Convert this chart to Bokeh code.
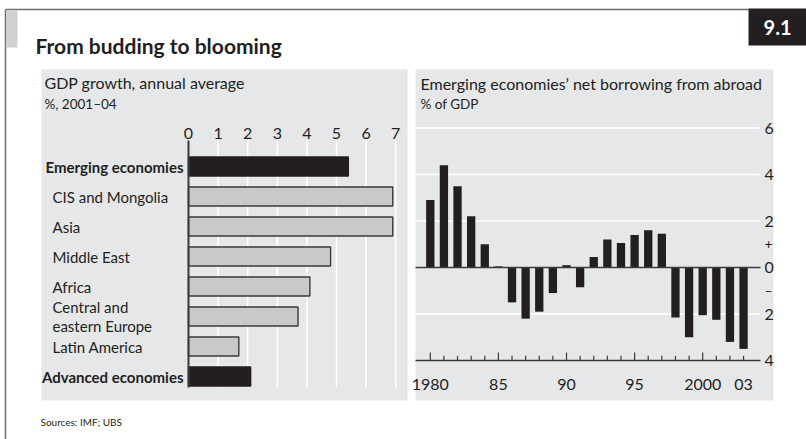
from bokeh.plotting import figure
from bokeh.models import Range1d
from bokeh.core.properties import value
from bokeh.embed import file_html
from bokeh.resources import INLINE

# ---- data -------------------------------------------------------------
# GDP growth, annual average, %, 2001-04
regions = ["Emerging economies", "CIS and Mongolia", "Asia", "Middle East",
           "Africa", "Central and\neastern Europe", "Latin America",
           "Advanced economies"]
gdp_growth = [5.4, 6.9, 6.9, 4.8, 4.1, 3.7, 1.7, 2.1]
is_aggregate = [True, False, False, False, False, False, False, True]
gdp_ticks = [0, 1, 2, 3, 4, 5, 6, 7]

# Emerging economies' net borrowing from abroad, % of GDP
years = list(range(1980, 2004))
net_borrowing = [2.9, 4.4, 3.5, 2.2, 1.0, 0.05, -1.5, -2.2, -1.9, -1.1,
                 0.1, -0.85, 0.45, 1.2, 1.05, 1.4, 1.6, 1.45, -2.15, -3.0,
                 -2.05, -2.25, -3.2, -3.5]
year_tick_pos = [1980, 1985, 1990, 1995, 2000, 2003]
year_tick_labels = ["1980", "85", "90", "95", "2000", "03"]
borrow_ticks = [6, 4, 2, 0, -2, -4]
borrow_tick_labels = ["6", "4", "2", "0", "2", "4"]

# ---- page geometry (pixels) -------------------------------------------
W, H = 806, 439
FONT = value("Lato")
INK = "#231f20"
PANEL = "#e6e7e9"

# left chart: value 0 sits at GDP_X0 px, GDP_UNIT px per percentage point
GDP_X0, GDP_UNIT = 188.0, 29.6
ROW0, ROW_H = 166.0, 30.0
# right chart: year 1980 at YR_X0 px, 0% at BOR_Y0 px
YR_X0, YR_UNIT = 429.8, 13.62
BOR_Y0, BOR_UNIT = 267.0, 23.25

p = figure(width=W, height=H, x_range=Range1d(0, W), y_range=Range1d(H, 0),
           x_axis_type=None, y_axis_type=None, toolbar_location=None,
           output_backend="svg", min_border=0, title=None,
           background_fill_color="white", border_fill_color="white",
           outline_line_color=None)

p.extra_x_ranges = {
    "gdp": Range1d(-GDP_X0 / GDP_UNIT, (W - GDP_X0) / GDP_UNIT),
    "yr": Range1d(1980 - YR_X0 / YR_UNIT, 1980 + (W - YR_X0) / YR_UNIT),
}
p.extra_y_ranges = {
    "row": Range1d((H - ROW0) / ROW_H, -ROW0 / ROW_H),
    "bor": Range1d(-(H - BOR_Y0) / BOR_UNIT, BOR_Y0 / BOR_UNIT),
}

# ---- frame, header and footer -----------------------------------------
p.segment(x0=[5, 5], y0=[9, 9], x1=[748, 5], y1=[9, H],
          line_color="#6d6e70", line_width=1.5)
p.quad(left=[6], right=[17], top=[10], bottom=[47], fill_color="#cfd0d2",
       line_color=None)
p.quad(left=[748], right=[W], top=[8], bottom=[45], fill_color=INK,
       line_color=None)
p.text(x=[777], y=[27], text=["9.1"], text_color="white", text_font=FONT,
       text_font_style="bold", text_font_size="20px", text_align="center",
       text_baseline="middle")
p.text(x=[35], y=[45], text=["From budding to blooming"], text_color=INK,
       text_font=FONT, text_font_style="bold", text_font_size="21px",
       text_baseline="middle")
p.text(x=[40], y=[421], text=["Sources: IMF; UBS"], text_color=INK,
       text_font=FONT, text_font_size="10px", text_baseline="middle")

# panel backgrounds
p.quad(left=[41, 415], right=[407, 773], top=[69, 69], bottom=[400, 400],
       fill_color=PANEL, line_color=None)

# ---- left panel: GDP growth -------------------------------------------
p.text(x=[44, 44], y=[82, 103],
       text=["GDP growth, annual average", "%, 2001\u201304"],
       text_font_size=["16px", "13.5px"], text_color=INK, text_font=FONT,
       text_baseline="middle")

p.segment(x0=gdp_ticks[1:], y0=[140] * 7, x1=gdp_ticks[1:], y1=[387] * 7,
          x_range_name="gdp", line_color="white", line_width=1.5)
p.text(x=gdp_ticks, y=[133] * len(gdp_ticks), text=[str(t) for t in gdp_ticks],
       x_range_name="gdp", text_color=INK, text_font=FONT,
       text_font_size="16px", text_align="center", text_baseline="middle")

rows = list(range(len(regions)))
fills = [INK if a else "#c8c9cb" for a in is_aggregate]
edges = [INK if a else "#3a3a3a" for a in is_aggregate]
p.hbar(y=rows, left=0, right=gdp_growth, height=0.63, fill_color=fills,
       line_color=edges, line_width=1.4, x_range_name="gdp",
       y_range_name="row")
p.segment(x0=[0], y0=[140], x1=[0], y1=[387], x_range_name="gdp",
          line_color="#3a3a3a", line_width=2)

plain = [i for i in rows if not is_aggregate[i]]
bold = [i for i in rows if is_aggregate[i]]
p.text(x=[52] * len(plain), y=plain, text=[regions[i] for i in plain],
       y_range_name="row", text_color=INK, text_font=FONT,
       text_font_size="15px", text_baseline="middle", text_line_height=1.05)
p.text(x=[183] * len(bold), y=bold, text=[regions[i] for i in bold],
       y_range_name="row", text_color=INK, text_font=FONT,
       text_font_style="bold", text_font_size="15px", text_align="right",
       text_baseline="middle")

# ---- right panel: net borrowing ---------------------------------------
p.text(x=[420, 420], y=[83, 103],
       text=["Emerging economies\u2019 net borrowing from abroad", "% of GDP"],
       text_font_size=["16px", "13.5px"], text_color=INK, text_font=FONT,
       text_baseline="middle")

grid_vals = [t for t in borrow_ticks if t not in (0, -4)]
p.segment(x0=[415] * len(grid_vals), y0=grid_vals, x1=[759] * len(grid_vals),
          y1=grid_vals, y_range_name="bor", line_color="white", line_width=1.5)

p.vbar(x=years, top=net_borrowing, bottom=0, width=0.61, fill_color=INK,
       line_color=None, x_range_name="yr", y_range_name="bor")

p.segment(x0=[415, 415], y0=[0, -4], x1=[760, 760], y1=[0, -4],
          y_range_name="bor", line_color="#3a3a3a", line_width=1.5)

tick_len = [0.34 if y % 5 == 0 else 0.2 for y in years]
p.segment(x0=years, y0=[-4] * len(years), x1=years,
          y1=[-4 + t for t in tick_len], x_range_name="yr",
          y_range_name="bor", line_color="#3a3a3a", line_width=1.2)

p.text(x=year_tick_pos, y=[384] * len(year_tick_pos), text=year_tick_labels,
       x_range_name="yr", text_color=INK, text_font=FONT,
       text_font_size="16px", text_align="center", text_baseline="middle")
p.text(x=[764] * len(borrow_ticks), y=borrow_ticks, text=borrow_tick_labels,
       y_range_name="bor", text_color=INK, text_font=FONT,
       text_font_size="16px", text_baseline="middle")
p.text(x=[764, 764], y=[1, -1], text=["+", "\u2013"], y_range_name="bor",
       text_color=INK, text_font=FONT, text_font_size="14px",
       text_baseline="middle")

open("out.html", "w").write(file_html(p, INLINE))
